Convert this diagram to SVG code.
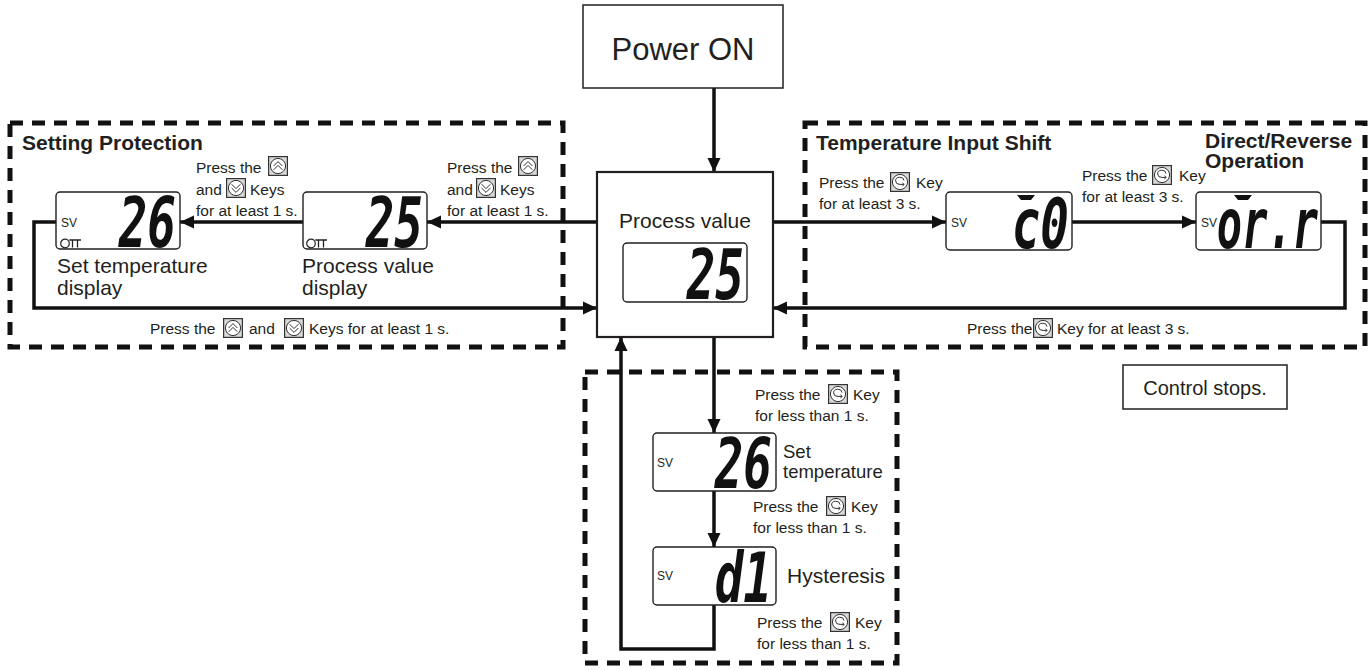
<svg xmlns="http://www.w3.org/2000/svg" width="1370" height="670" viewBox="0 0 1370 670">
<defs>
<style>
text{font-family:"Liberation Sans",Arial,sans-serif;fill:#231f20}
.lbl{font-size:15.5px}
.big{font-size:21px}
.mid{font-size:18.5px}
.ttl{font-size:21px;font-weight:bold}
.sv{font-size:12px}
.seg{font-family:"DejaVu Sans Mono",monospace;font-weight:bold;font-style:italic;font-size:70px;fill:#111}
.box{fill:#fff;stroke:#231f20;stroke-width:1.5}
.pbox{fill:#fff;stroke:#231f20;stroke-width:2.2}
.lcd{fill:#fff;stroke:#231f20;stroke-width:1.4}
.dash{fill:none;stroke:#111;stroke-width:5;stroke-dasharray:13 9}
.ln{fill:none;stroke:#111;stroke-width:3.5;marker-end:url(#ah)}
.ind{fill:#111}
</style>
<marker id="ah" markerWidth="14" markerHeight="14" refX="14" refY="7" orient="auto" markerUnits="userSpaceOnUse"><path d="M0,0.5 L14,7 L0,13.5 Z" fill="#111"/></marker>
<symbol id="kUp" viewBox="0 0 20 20"><rect x="0.6" y="0.6" width="18.8" height="18.8" fill="#d9d9d9" stroke="#333" stroke-width="1.2"/><circle cx="10" cy="10" r="7.6" fill="#fff" stroke="#333" stroke-width="1"/><path d="M5.6,10 L10,5.6 L14.4,10 M5.6,13.8 L10,9.4 L14.4,13.8" fill="none" stroke="#333" stroke-width="1"/></symbol>
<symbol id="kDn" viewBox="0 0 20 20"><rect x="0.6" y="0.6" width="18.8" height="18.8" fill="#d9d9d9" stroke="#333" stroke-width="1.2"/><circle cx="10" cy="10" r="7.6" fill="#fff" stroke="#333" stroke-width="1"/><path d="M5.6,6.2 L10,10.6 L14.4,6.2 M5.6,10 L10,14.4 L14.4,10" fill="none" stroke="#333" stroke-width="1"/></symbol>
<symbol id="kMode" viewBox="0 0 20 20"><rect x="0.6" y="0.6" width="18.8" height="18.8" fill="#d9d9d9" stroke="#333" stroke-width="1.2"/><circle cx="10" cy="10" r="7.6" fill="#fff" stroke="#333" stroke-width="1"/><path d="M14,8.6 A4.2,3.6 0 1 0 10,12.4 L14.2,12.4 M12.4,10.8 L14.2,12.4 L12.4,14" fill="none" stroke="#333" stroke-width="1"/></symbol>
<symbol id="lock" viewBox="0 0 22 12"><circle cx="5" cy="6.5" r="4.3" fill="none" stroke="#222" stroke-width="1.2"/><path d="M9.3,3 H21 M12.5,3 V10.5 M17.5,3 V10.5" fill="none" stroke="#222" stroke-width="1.3"/></symbol>
</defs>
<rect width="1370" height="670" fill="#fff"/>

<g id="group-setting-protection">
<rect class="dash" x="10" y="123" width="553" height="224"/>
<text class="ttl" x="22" y="150">Setting Protection</text>
</g>
<g id="group-temperature-input-shift">
<rect class="dash" x="805" y="123" width="560" height="224"/>
<text class="ttl" x="816" y="150">Temperature Input Shift</text>
<text class="ttl" x="1205" y="148">Direct/Reverse</text>
<text class="ttl" x="1205" y="168">Operation</text>
</g>
<g id="group-settings">
<rect class="dash" x="585" y="372" width="312" height="291"/>
</g>

<g id="connectors">
<path class="ln" d="M714,88 V172"/>
<path class="ln" d="M597,222 H427"/>
<path class="ln" d="M303,222 H180"/>
<path class="ln" d="M56,222 H34 V308 H597"/>
<path class="ln" d="M773,222 H946"/>
<path class="ln" d="M1072,222 H1196"/>
<path class="ln" d="M1321,222 H1345 V308 H773"/>
<path class="ln" d="M714,337 V433"/>
<path class="ln" d="M714,491 V547"/>
<path class="ln" d="M714,605 V649 H621 V337"/>
<g id="connector-labels">
<text class="lbl" x="447" y="173">Press the</text><use href="#kUp" x="518" y="156" width="20" height="20"/>
<text class="lbl" x="447" y="195">and</text><use href="#kDn" x="476" y="178" width="20" height="20"/><text class="lbl" x="500" y="195">Keys</text>
<text class="lbl" x="447" y="216">for at least 1 s.</text>
<text class="lbl" x="196" y="173">Press the</text><use href="#kUp" x="268" y="156" width="20" height="20"/>
<text class="lbl" x="196" y="195">and</text><use href="#kDn" x="226" y="178" width="20" height="20"/><text class="lbl" x="250" y="195">Keys</text>
<text class="lbl" x="196" y="216">for at least 1 s.</text>
<text class="lbl" x="150" y="334">Press the</text><use href="#kUp" x="223" y="318" width="20" height="20"/><text class="lbl" x="249" y="334">and</text><use href="#kDn" x="284" y="318" width="20" height="20"/><text class="lbl" x="309" y="334">Keys for at least 1 s.</text>
<text class="lbl" x="819" y="188">Press the</text><use href="#kMode" x="890" y="172" width="20" height="20"/><text class="lbl" x="916" y="188">Key</text>
<text class="lbl" x="819" y="209">for at least 3 s.</text>
<text class="lbl" x="1082" y="181">Press the</text><use href="#kMode" x="1152" y="165" width="20" height="20"/><text class="lbl" x="1179" y="181">Key</text>
<text class="lbl" x="1082" y="202">for at least 3 s.</text>
<text class="lbl" x="967" y="334">Press the</text><use href="#kMode" x="1033" y="318" width="20" height="20"/><text class="lbl" x="1057" y="334">Key for at least 3 s.</text>
<text class="lbl" x="755" y="400">Press the</text><use href="#kMode" x="828" y="384" width="20" height="20"/><text class="lbl" x="853" y="400">Key</text>
<text class="lbl" x="755" y="421">for less than 1 s.</text>
<text class="lbl" x="753" y="512">Press the</text><use href="#kMode" x="826" y="496" width="20" height="20"/><text class="lbl" x="851" y="512">Key</text>
<text class="lbl" x="753" y="533">for less than 1 s.</text>
<text class="lbl" x="757" y="628">Press the</text><use href="#kMode" x="830" y="612" width="20" height="20"/><text class="lbl" x="855" y="628">Key</text>
<text class="lbl" x="757" y="649">for less than 1 s.</text>
</g>
</g>

<g id="node-power-on">
<rect class="box" x="583" y="5" width="200" height="83"/>
<text x="683" y="60" font-size="31" text-anchor="middle">Power ON</text>
</g>
<g id="node-process-value">
<rect class="pbox" x="597" y="172" width="176" height="165"/>
<text class="big" x="685" y="228" text-anchor="middle">Process value</text>
<rect class="lcd" x="623" y="243" width="124" height="59" rx="4"/>
<text class="seg" transform="translate(744,299) scale(0.68,1)" text-anchor="end">25</text>
</g>
<g id="node-sp-set-temperature">
<rect class="lcd" x="56" y="192" width="124" height="57" rx="4"/>
<text class="sv" x="61" y="227">SV</text>
<use href="#lock" x="60" y="237" width="22" height="12"/>
<text class="seg" transform="translate(176,247) scale(0.68,1)" text-anchor="end">26</text>
<text class="big" x="57" y="273">Set temperature</text>
<text class="big" x="57" y="295">display</text>
</g>
<g id="node-sp-process-value">
<rect class="lcd" x="303" y="192" width="124" height="57" rx="4"/>
<use href="#lock" x="306" y="237" width="22" height="12"/>
<text class="seg" transform="translate(423,247) scale(0.68,1)" text-anchor="end">25</text>
<text class="big" x="302" y="273">Process value</text>
<text class="big" x="302" y="295">display</text>
</g>
<g id="node-input-shift">
<rect class="lcd" x="946" y="192" width="126" height="58" rx="4"/>
<text class="sv" x="951" y="227">SV</text>
<path class="ind" d="M1017,195 H1035 L1031,200 H1021 Z"/>
<text class="seg" transform="translate(1069,248) scale(0.68,1)" text-anchor="end">c0</text>
</g>
<g id="node-direct-reverse">
<rect class="lcd" x="1196" y="192" width="125" height="58" rx="4"/>
<text class="sv" x="1201" y="227">SV</text>
<path class="ind" d="M1234,195 H1252 L1248,200 H1238 Z"/>
<text class="seg" transform="translate(1318,248) scale(0.6,1)" text-anchor="end" font-size="60">or.r</text>
</g>
<g id="node-set-temperature">
<rect class="lcd" x="653" y="433" width="123" height="58" rx="4"/>
<text class="sv" x="657" y="467">SV</text>
<text class="seg" transform="translate(772,488) scale(0.68,1)" text-anchor="end">26</text>
<text class="mid" x="783" y="458">Set</text>
<text class="mid" x="783" y="478">temperature</text>
</g>
<g id="node-hysteresis">
<rect class="lcd" x="653" y="547" width="123" height="58" rx="4"/>
<text class="sv" x="657" y="580">SV</text>
<text class="seg" transform="translate(772,602) scale(0.68,1)" text-anchor="end">d1</text>
<text class="big" x="787" y="583">Hysteresis</text>
</g>
<g id="node-control-stops">
<rect class="box" x="1123" y="365" width="164" height="44"/>
<text x="1205" y="395" font-size="20" text-anchor="middle">Control stops.</text>
</g>
</svg>
